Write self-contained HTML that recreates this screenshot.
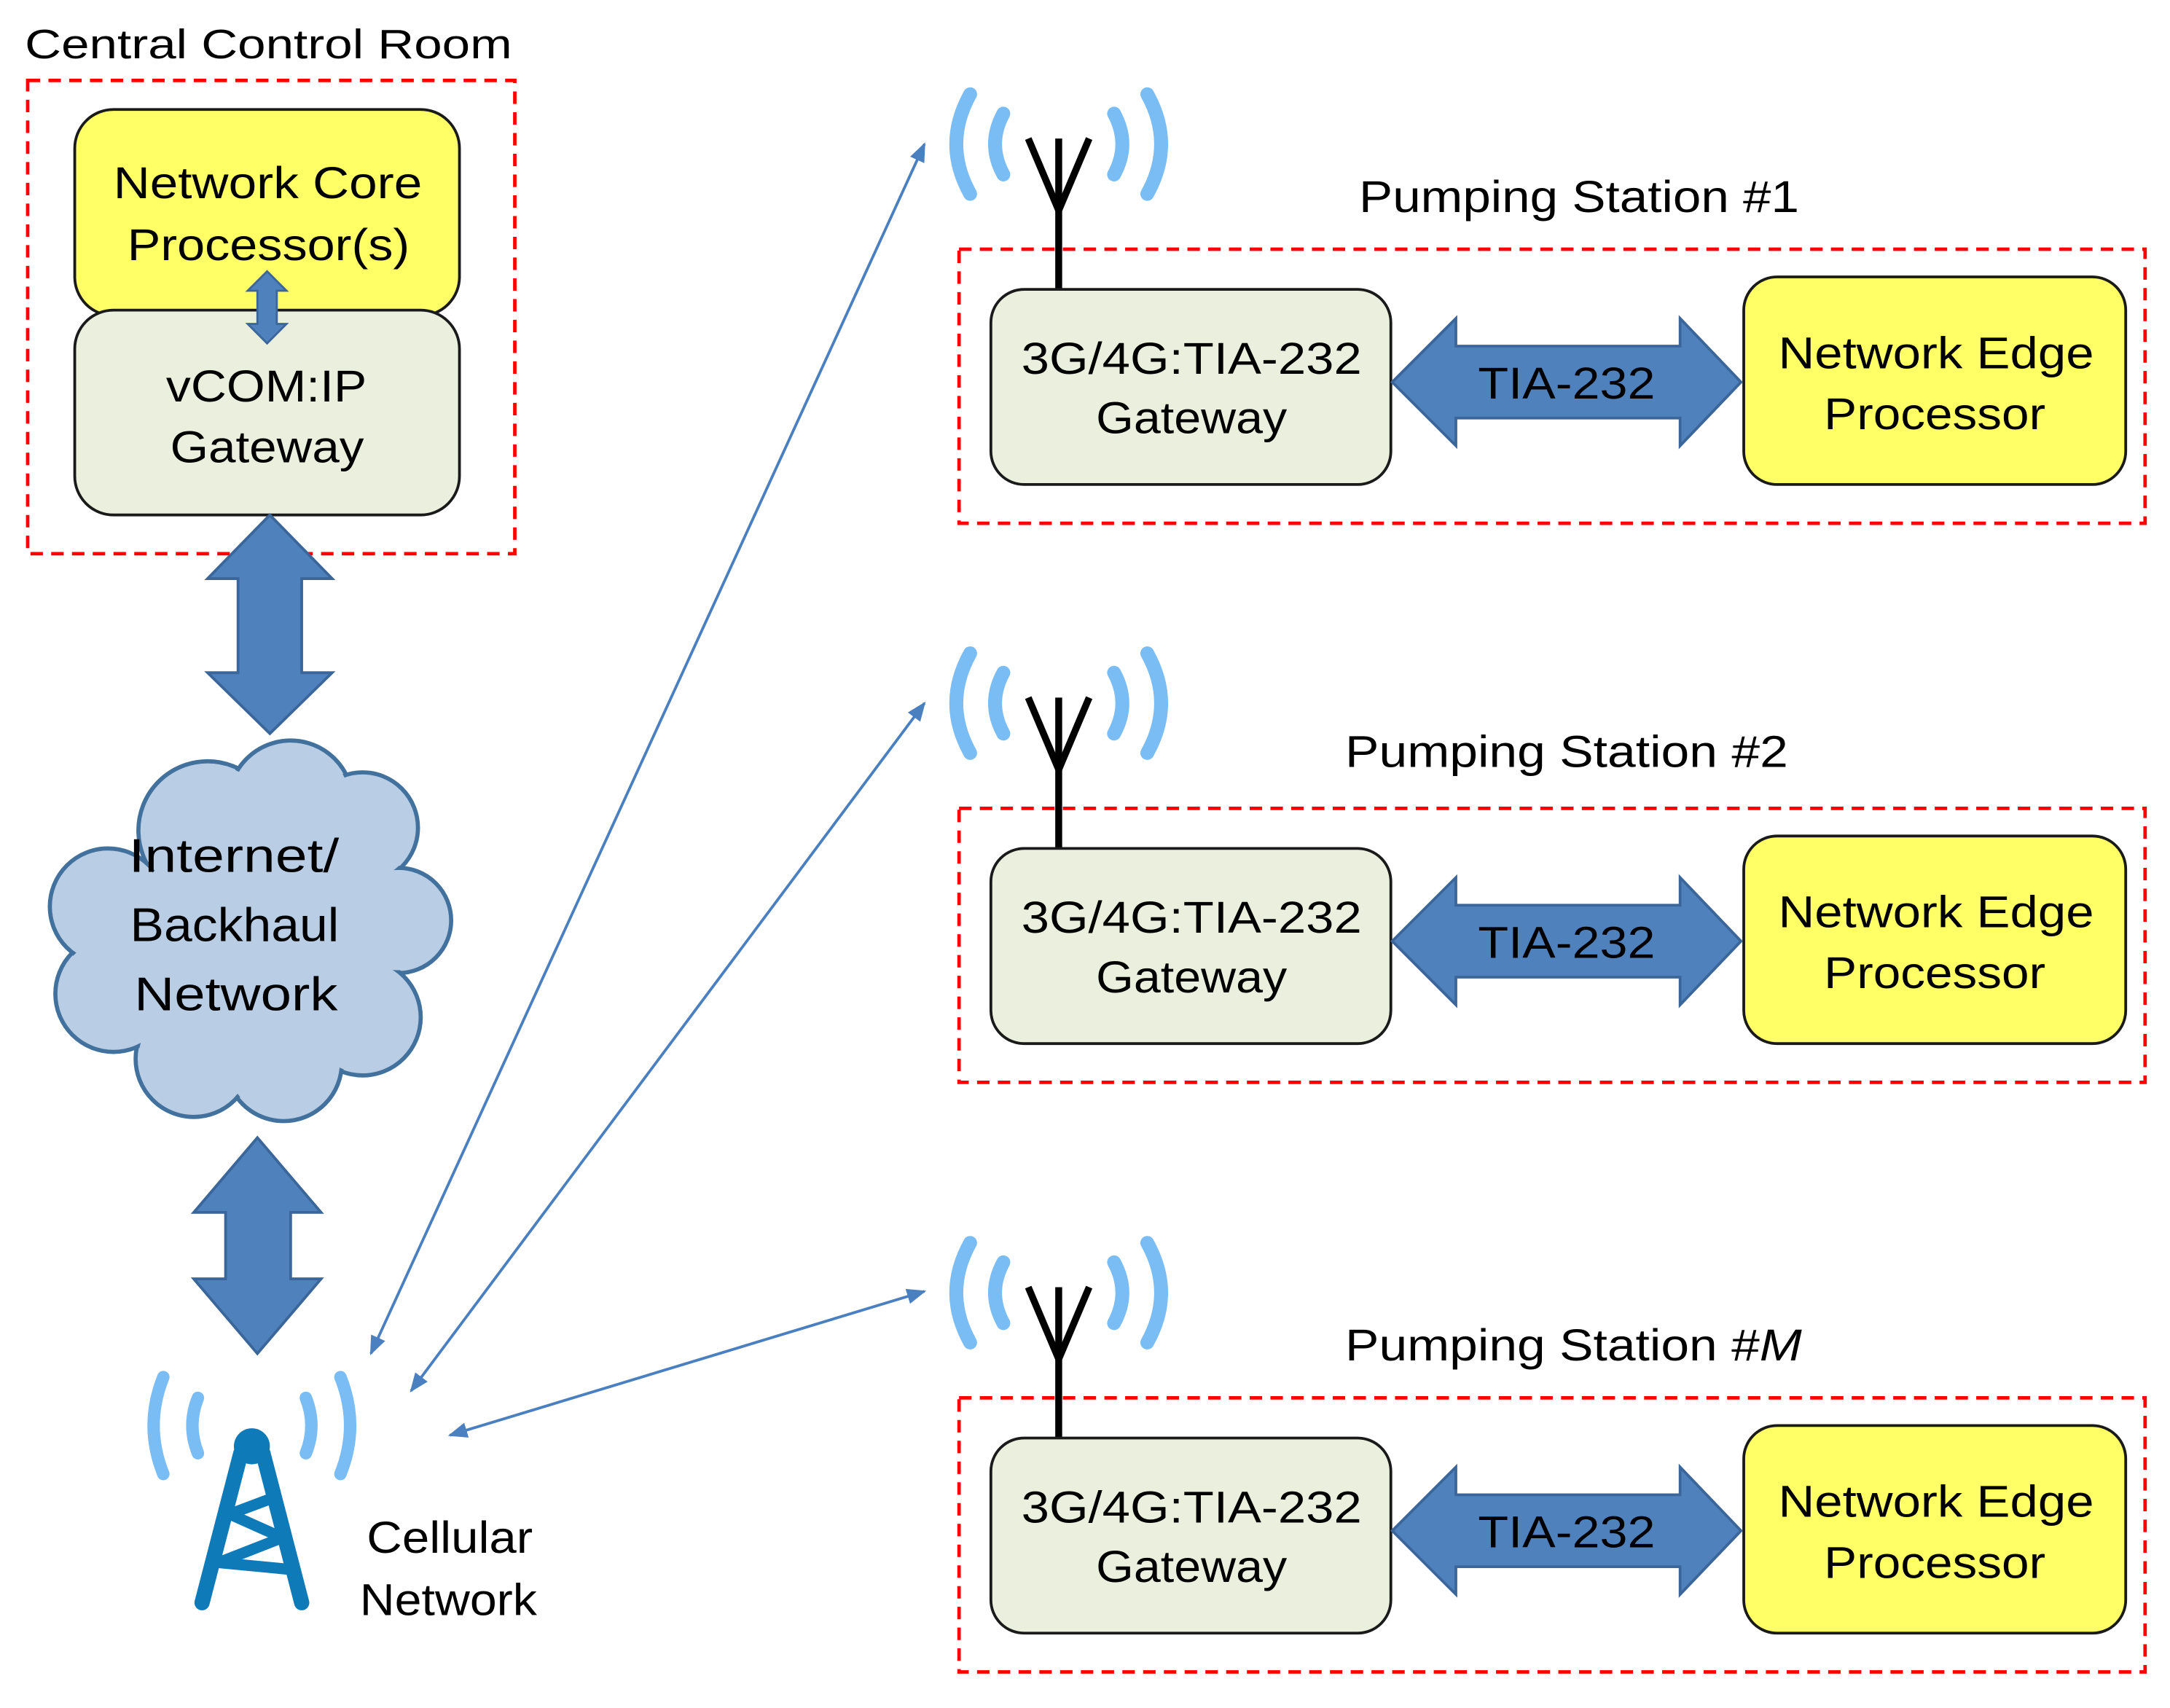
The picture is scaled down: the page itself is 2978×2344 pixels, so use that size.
<!DOCTYPE html>
<html><head><meta charset="utf-8"><style>
html,body{margin:0;padding:0;background:#fff}
svg{display:block}
text{font-family:"Liberation Sans",sans-serif;fill:#000}
</style></head><body>
<svg width="2978" height="2344" viewBox="0 0 1568 1234" xmlns="http://www.w3.org/2000/svg">
<defs>
<marker id="ah" viewBox="0 0 10 10" refX="9" refY="5" markerWidth="7" markerHeight="7" orient="auto-start-reverse">
<path d="M0,1 L10,5 L0,9 Z" fill="#4a7fc0"/></marker>
<g id="ant">
<path d="M0,0 V110" stroke="#000" stroke-width="5" fill="none"/>
<path d="M-22,0 L0,52 L22,0" stroke="#000" stroke-width="5" fill="none"/>
<path d="M-64,-32 Q-84,4 -64,40" stroke="#7abdf5" stroke-width="10" fill="none" stroke-linecap="round"/>
<path d="M-40,-18 Q-52,4 -40,26" stroke="#7abdf5" stroke-width="10" fill="none" stroke-linecap="round"/>
<path d="M64,-32 Q84,4 64,40" stroke="#7abdf5" stroke-width="10" fill="none" stroke-linecap="round"/>
<path d="M40,-18 Q52,4 40,26" stroke="#7abdf5" stroke-width="10" fill="none" stroke-linecap="round"/>
</g>
<g id="st">
<rect x="693" y="180" width="857" height="198" fill="none" stroke="#f00" stroke-width="2.5" stroke-dasharray="9,6"/>
<use href="#ant" x="765" y="100"/>
<rect x="716" y="209" width="289" height="141" rx="24" fill="#ebf0de" stroke="#1a1a1a" stroke-width="2"/>
<rect x="1260" y="200" width="276" height="150" rx="24" fill="#ffff66" stroke="#1a1a1a" stroke-width="2"/>
<path d="M1006,276 L1052,230 L1052,250 L1214,250 L1214,230 L1258,276 L1214,322 L1214,302 L1052,302 L1052,322 Z" fill="#4f81bd" stroke="#3b669a" stroke-width="2"/>
<text x="738" y="270" font-size="32" textLength="246" lengthAdjust="spacingAndGlyphs">3G/4G:TIA-232</text>
<text x="792" y="313" font-size="32" textLength="138" lengthAdjust="spacingAndGlyphs">Gateway</text>
<text x="1068" y="288" font-size="32" textLength="128" lengthAdjust="spacingAndGlyphs">TIA-232</text>
<text x="1285" y="266" font-size="32" textLength="228" lengthAdjust="spacingAndGlyphs">Network Edge</text>
<text x="1318" y="310" font-size="32" textLength="160" lengthAdjust="spacingAndGlyphs">Processor</text>
</g>
</defs>

<text x="18" y="42" font-size="30" textLength="352" lengthAdjust="spacingAndGlyphs">Central Control Room</text>
<rect x="20" y="58" width="352" height="342" fill="none" stroke="#f00" stroke-width="2.5" stroke-dasharray="9,6"/>
<rect x="54" y="79" width="278" height="149" rx="28" fill="#ffff66" stroke="#1a1a1a" stroke-width="2"/>
<rect x="54" y="224" width="278" height="148" rx="28" fill="#ebf0de" stroke="#1a1a1a" stroke-width="2"/>
<text x="82" y="143" font-size="32" textLength="223" lengthAdjust="spacingAndGlyphs">Network Core</text>
<text x="92" y="188" font-size="32" textLength="204" lengthAdjust="spacingAndGlyphs">Processor(s)</text>
<text x="120" y="290" font-size="32" textLength="145" lengthAdjust="spacingAndGlyphs">vCOM:IP</text>
<text x="123" y="334" font-size="32" textLength="140" lengthAdjust="spacingAndGlyphs">Gateway</text>
<path d="M193,196 L207,210 L200,210 L200,234 L207,234 L193,248 L179,234 L186,234 L186,210 L179,210 Z" fill="#4f81bd" stroke="#3b669a" stroke-width="1.5"/>

<path d="M195,372 L240,418 L218,418 L218,486 L240,486 L195,530 L150,486 L172,486 L172,418 L150,418 Z" fill="#4f81bd" stroke="#3b669a" stroke-width="2"/>
<path d="M186,822 L232,876 L210,876 L210,924 L232,924 L186,978 L140,924 L163,924 L163,876 L140,876 Z" fill="#4f81bd" stroke="#3b669a" stroke-width="2"/>

<g fill="#b9cde5" stroke="#41719c" stroke-width="3">
<circle cx="150" cy="600" r="50"/><circle cx="210" cy="580" r="45"/><circle cx="262" cy="598" r="40"/>
<circle cx="288" cy="665" r="38"/><circle cx="262" cy="735" r="42"/><circle cx="205" cy="768" r="42"/>
<circle cx="140" cy="765" r="42"/><circle cx="82" cy="718" r="42"/><circle cx="78" cy="655" r="42"/>
</g>
<g fill="#b9cde5">
<circle cx="150" cy="600" r="48"/><circle cx="210" cy="580" r="43"/><circle cx="262" cy="598" r="38"/>
<circle cx="288" cy="665" r="36"/><circle cx="262" cy="735" r="40"/><circle cx="205" cy="768" r="40"/>
<circle cx="140" cy="765" r="40"/><circle cx="82" cy="718" r="40"/><circle cx="78" cy="655" r="40"/>
<path d="M150,600 L210,580 L262,598 L288,665 L262,735 L205,768 L140,765 L82,718 L78,655 Z"/>
</g>
<g font-size="34">
<text x="93" y="630" textLength="152" lengthAdjust="spacingAndGlyphs">Internet/</text>
<text x="94" y="680" textLength="151" lengthAdjust="spacingAndGlyphs">Backhaul</text>
<text x="97" y="730" textLength="147" lengthAdjust="spacingAndGlyphs">Network</text>
</g>

<g stroke-linecap="round" stroke-linejoin="round" fill="none">
<path d="M118,995 Q104,1030 118,1065" stroke="#7abdf5" stroke-width="9"/>
<path d="M143,1010 Q135,1030 143,1050" stroke="#7abdf5" stroke-width="9"/>
<path d="M246,995 Q260,1030 246,1065" stroke="#7abdf5" stroke-width="9"/>
<path d="M221,1010 Q229,1030 221,1050" stroke="#7abdf5" stroke-width="9"/>
<path d="M174,1050 L146,1158 M190,1050 L218,1158" stroke="#0f7ab8" stroke-width="11"/>
<path d="M198,1082 L166,1094 L204,1111 L158,1129 L210,1134" stroke="#0f7ab8" stroke-width="8"/>
</g>
<circle cx="182" cy="1045" r="13" fill="#0f7ab8"/>
<text x="265" y="1122" font-size="32" textLength="120" lengthAdjust="spacingAndGlyphs">Cellular</text>
<text x="260" y="1167" font-size="32" textLength="128" lengthAdjust="spacingAndGlyphs">Network</text>

<g stroke="#4a7fc0" stroke-width="2" marker-start="url(#ah)" marker-end="url(#ah)">
<line x1="268" y1="978" x2="668" y2="104"/>
<line x1="297" y1="1005" x2="668" y2="508"/>
<line x1="325" y1="1037" x2="668" y2="933"/>
</g>

<text x="982" y="153" font-size="32" textLength="318" lengthAdjust="spacingAndGlyphs">Pumping Station #1</text>
<use href="#st"/>
<text x="972" y="554" font-size="32" textLength="320" lengthAdjust="spacingAndGlyphs">Pumping Station #2</text>
<use href="#st" y="404"/>
<text x="972" y="983" font-size="32" textLength="330" lengthAdjust="spacingAndGlyphs">Pumping Station #<tspan font-style="italic">M</tspan></text>
<use href="#st" y="830"/>
</svg>
</body></html>
